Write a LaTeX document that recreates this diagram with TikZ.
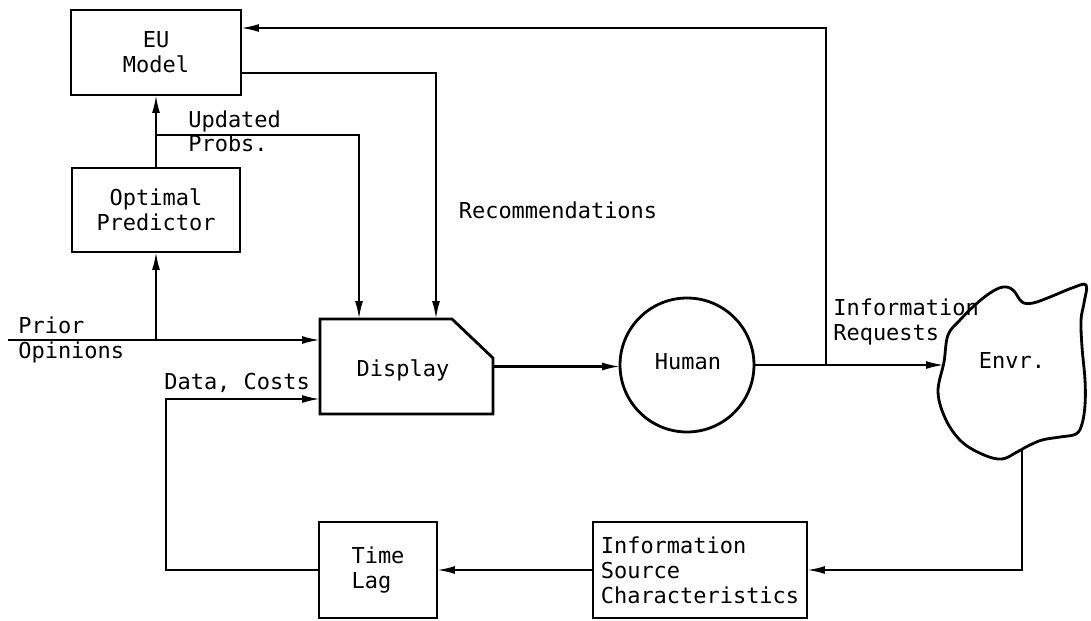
\documentclass[tikz,border=0pt]{standalone}
\usepackage{fontspec}
\setmainfont{DejaVu Sans Mono}
\usepackage{tikz}
\usetikzlibrary{arrows.meta,positioning,calc}

\begin{document}
\begin{tikzpicture}[x=0.02cm,y=-0.02cm,
    font=\fontsize{12.5}{14.2}\selectfont,
    block/.style={draw,line width=1.6pt,align=center,inner sep=2pt,outer sep=0pt},
    conn/.style={line width=1.2pt,-{Latex[length=0.36cm,width=0.16cm]}}]
    \useasboundingbox (0,0) rectangle (1091,621);

    \node[block,minimum width=3.4cm,minimum height=1.7cm] (eu) at (156,52.5) {EU\\Model};
    \node[block,minimum width=3.36cm,minimum height=1.68cm] (opt) at (156,210) {Optimal\\Predictor};
    \node[minimum width=3.46cm,minimum height=1.9cm,inner sep=0pt,outer sep=0pt] (disp) at (406.5,366.5) {};
    \draw[line width=1.6pt] (disp.south west) |- ($(disp.north east)+(-41,0)$)
        -- ($(disp.north east)+(0,39)$) -- (disp.south east) -- cycle;
    \node (displbl) at (403,370) {Display};
    \node[draw,circle,line width=1.6pt,outer sep=0pt,minimum size=2.68cm] (human) at (687,365) {};
    \node (humanlbl) at (688,362) {Human};
    \node[block,align=left,minimum width=2.36cm,minimum height=1.92cm] (lag) at (378,570) {Time\\Lag};
    \node[block,align=left,minimum width=4.28cm,minimum height=1.92cm] (info) at (700,570)
        {Information\\Source\\Characteristics};

    \draw[line width=1.6pt] plot[smooth cycle,tension=0.6] coordinates {
        (944,362) (948,335) (960,320) (975,305) (990,293) (1003,287) (1013,290)
        (1022,302) (1033,303) (1050,297) (1072,288) (1086,285) (1084,303)
        (1081,320) (1082,347) (1085,380) (1085,405) (1082,424) (1076,434)
        (1060,437) (1042,440) (1028,446) (1017,452) (1002,459) (984,455)
        (962,442) (946,420) (938,392)};
    \node (envr) at (1012,360) {Envr.};

    \coordinate (prior) at (8,340);
    \coordinate (upd) at (156,135);
    \coordinate (tap) at (826,365);
    \coordinate (envrin) at (944,365);
    \coordinate (envrout) at (1022,450);
    \coordinate (dc) at (166,399);

    \draw[conn] (opt) -- (eu);
    \draw[conn] (opt.south |- prior) -- (opt.south);
    \draw[conn] (prior) -- (disp.west |- prior);
    \draw[conn] (upd) -| ([xshift=0.78cm]disp.north west);
    \draw[conn] ([yshift=-0.41cm]eu.east) -| ([xshift=2.32cm]disp.north west);
    \draw[conn] (disp.east) -- (disp.east -| human.west);
    \draw[conn] (human.east) -- (envrin);
    \draw[conn] (tap) |- ([yshift=0.49cm]eu.east);
    \draw[conn] (envrout) |- (info.east);
    \draw[conn] (info) -- (lag);
    \draw[conn] (lag.west) -| (dc) -- (disp.west |- dc);

    \node[align=left,anchor=north west,inner sep=0pt] (updlbl) at (188,110) {Updated\\Probs.};
    \node (reclbl) at (558,210) {Recommendations};
    \node[align=left,anchor=west,inner sep=0pt] (priorlbl) at (18,340) {Prior\\Opinions};
    \node[anchor=south west,inner sep=0pt] (dclbl) at (164,393) {Data, Costs};
    \node[align=left,anchor=west,inner sep=0pt] (reqlbl) at (833,322) {Information\\Requests};
\end{tikzpicture}
\end{document}
